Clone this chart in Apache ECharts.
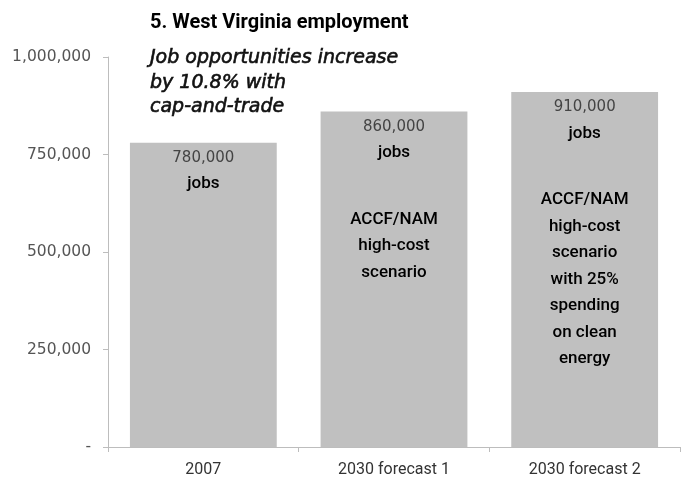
<!DOCTYPE html>
<html>
<head>
<meta charset="utf-8">
<script src="https://cdn.jsdelivr.net/npm/echarts@6/dist/echarts.min.js"></script>
<style>
  html, body { margin: 0; padding: 0; background: #fff; }
  #main { width: 683px; height: 485px; }
</style>
</head>
<body>
<div id="main"></div>
<script>
// chart data
var categories = ['2007', '2030 forecast 1', '2030 forecast 2'];
var jobs = [780000, 860000, 910000];
var notes = [
  [],
  ['ACCF/NAM', 'high-cost', 'scenario'],
  ['ACCF/NAM', 'high-cost', 'scenario', 'with 25%', 'spending', 'on clean', 'energy']
];
var titleText = '5. West Virginia employment';
var subtitleLines = ['Job opportunities increase', 'by 10.8% with', 'cap-and-trade'];

function fmt(n) {
  return n.toLocaleString('en-US');
}

var chart = echarts.init(document.getElementById('main'));

chart.setOption({
  backgroundColor: '#fff',
  animation: false,
  title: [
    {
      text: titleText,
      left: 145,
      top: 8,
      textStyle: { fontFamily: 'Roboto', fontSize: 20, fontWeight: 'bold', color: '#000' }
    },
    {
      text: subtitleLines.join('\n'),
      left: 145,
      top: 41,
      textStyle: {
        fontFamily: 'DejaVu Sans', fontSize: 19, fontStyle: 'italic', fontWeight: 'normal',
        color: '#111', lineHeight: 24.5,
        textBorderColor: '#111', textBorderWidth: 0.6
      }
    }
  ],
  grid: { left: 108, right: 3, top: 57, bottom: 38, outerBoundsMode: 'none' },
  xAxis: {
    type: 'category',
    data: categories,
    axisLine: { lineStyle: { color: '#bdbdbd' } },
    axisTick: { show: true, length: 5, lineStyle: { color: '#bdbdbd' } },
    axisLabel: { margin: 15, fontFamily: 'Roboto', fontSize: 16, color: '#333' }
  },
  yAxis: {
    type: 'value',
    min: 0,
    max: 1000000,
    interval: 250000,
    splitLine: { show: false },
    axisLine: { show: true, lineStyle: { color: '#bdbdbd' } },
    axisTick: { show: true, length: 5, lineStyle: { color: '#bdbdbd' } },
    axisLabel: {
      margin: 17,
      fontFamily: 'DejaVu Sans', fontSize: 15.5, color: '#555',
      formatter: function (v) { return v === 0 ? '-' : fmt(v); }
    }
  },
  series: [
    {
      type: 'bar',
      data: jobs,
      barCategoryGap: '23%',
      itemStyle: { color: '#c0c0c0' },
      label: {
        show: true,
        position: 'insideTop',
        distance: 3,
        formatter: function (p) {
          var s = '{v|' + fmt(p.value) + '}\n{b|jobs}';
          var n = notes[p.dataIndex];
          if (n.length) {
            s += '\n{gap| }';
            n.forEach(function (t) { s += '\n{b|' + t + '}'; });
          }
          return s;
        },
        rich: {
          v: { fontFamily: 'DejaVu Sans', fontSize: 15, color: '#444', lineHeight: 25 },
          b: { fontFamily: 'Roboto', fontSize: 17, fontWeight: 500, color: '#000', lineHeight: 26.5 },
          gap: { fontSize: 10, lineHeight: 40 }
        }
      }
    }
  ]
});
</script>
</body>
</html>
